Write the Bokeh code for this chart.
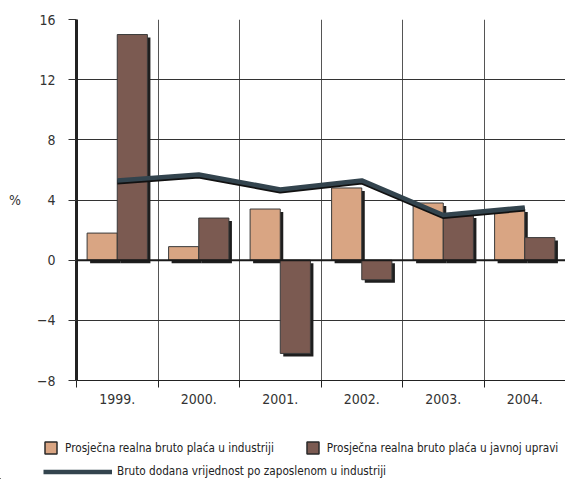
from bokeh.plotting import figure
from bokeh.models import (ColumnDataSource, FixedTicker, Span, Legend, LegendItem,
                          Range1d, CustomJSTickFormatter)
from bokeh.transform import dodge
from bokeh.embed import file_html
from bokeh.resources import INLINE

# ---- data ----
years = ["1999.", "2000.", "2001.", "2002.", "2003.", "2004."]
industry_wage = [1.8, 0.9, 3.4, 4.8, 3.8, 3.4]
public_wage = [15.0, 2.8, -6.2, -1.3, 3.0, 1.5]
value_added = [5.3, 5.7, 4.7, 5.3, 3.0, 3.5]
y_ticks = [-8, -4, 0, 4, 8, 12, 16]
labels = ["Prosječna realna bruto plaća u industriji",
          "Prosječna realna bruto plaća u javnoj upravi",
          "Bruto dodana vrijednost po zaposlenom u industriji"]

FONT = "'Liberation Sans Narrow', 'DejaVu Sans Condensed', 'Noto Sans Condensed', 'Liberation Sans', sans-serif"
TAN = "#d9a583"
BROWN = "#7b5a51"
LINE = "#33444e"
SHADOW = "#1e1e1e"

xc = [i + 0.5 for i in range(len(years))]
src = ColumnDataSource(dict(
    x=xc,
    ind_top=[max(v, 0) for v in industry_wage],
    ind_bot=[min(v, 0) for v in industry_wage],
    pub_top=[max(v, 0) for v in public_wage],
    pub_bot=[min(v, 0) for v in public_wage],
    va=value_added,
))

p = figure(width=565, height=410, output_backend="svg", toolbar_location=None,
           x_range=Range1d(0, len(years)), y_range=Range1d(y_ticks[0], y_ticks[-1]),
           min_border_left=76, min_border_right=0, min_border_top=19, min_border_bottom=30)
p.outline_line_color = None
p.background_fill_color = "white"

# grids
p.xgrid.ticker = FixedTicker(ticks=list(range(1, len(years) + 1)))
p.xgrid.grid_line_color = "#555555"
p.xgrid.grid_line_width = 1
p.ygrid.ticker = FixedTicker(ticks=y_ticks)
p.ygrid.grid_line_color = "#333333"
p.ygrid.grid_line_width = 1

# axes
xa = p.xaxis[0]
xa.ticker = FixedTicker(ticks=xc, minor_ticks=list(range(0, len(years) + 1)))
xa.formatter = CustomJSTickFormatter(args=dict(labels=years),
                                     code="return labels[Math.floor(tick)];")
xa.major_tick_out = 0
xa.major_tick_in = 0
xa.minor_tick_out = 7
xa.minor_tick_in = 0
xa.minor_tick_line_color = "#222222"
xa.axis_line_color = "#222222"
xa.major_label_standoff = 6
xa.major_label_text_font = FONT
xa.major_label_text_font_size = "14px"
xa.major_label_text_color = "#333333"

ya = p.yaxis[0]
ya.ticker = FixedTicker(ticks=y_ticks)
ya.major_label_overrides = {t: ("\u2212" + str(-t) if t < 0 else str(t)) for t in y_ticks}
ya.minor_tick_line_color = None
ya.major_tick_out = 8
ya.major_tick_in = 0
ya.major_tick_line_color = "#333333"
ya.axis_line_width = 3
ya.axis_line_color = "#222222"
ya.major_label_standoff = 13
ya.major_label_text_font = FONT
ya.major_label_text_font_size = "14px"
ya.major_label_text_color = "#333333"
ya.axis_label = "%"
ya.axis_label_orientation = "horizontal"
ya.axis_label_standoff = 13
ya.axis_label_text_font = FONT
ya.axis_label_text_font_size = "14px"
ya.axis_label_text_font_style = "normal"
ya.axis_label_text_color = "#333333"

BW = 0.37
OFF = BW / 2
SX = 0.037   # shadow offset (x)
SY = 0.2     # shadow offset (y)

# shadows
p.vbar(x=dodge("x", -OFF + SX, range=p.x_range), width=BW,
       top=dodge("ind_top", -SY), bottom=dodge("ind_bot", -SY),
       source=src, fill_color=SHADOW, line_color=None)
p.vbar(x=dodge("x", OFF + SX, range=p.x_range), width=BW,
       top=dodge("pub_top", -SY), bottom=dodge("pub_bot", -SY),
       source=src, fill_color=SHADOW, line_color=None)

p.vbar(x=dodge("x", -OFF, range=p.x_range), width=BW, top="ind_top", bottom="ind_bot",
       source=src, fill_color=TAN, line_color="#3a3a3a", line_width=1)
p.vbar(x=dodge("x", OFF, range=p.x_range), width=BW, top="pub_top", bottom="pub_bot",
       source=src, fill_color=BROWN, line_color="#3a3a3a", line_width=1)

p.add_layout(Span(location=0, dimension="width", line_color="#1a1a1a", line_width=2))

p.line(x="x", y=dodge("va", -0.1), source=src, line_color="#111111", line_width=5)
p.line(x="x", y="va", source=src, line_color=LINE, line_width=4.5)

# ---- legend panel (separate root, same data, ranges chosen so marks stay out of view) ----
lg = figure(width=565, height=69, output_backend="svg", toolbar_location=None,
            x_axis_type=None, y_axis_type=None,
            x_range=Range1d(10, 11), y_range=Range1d(20, 21), min_border=0)
lg.outline_line_color = None
lg.grid.visible = False
d_ind = lg.vbar(x="x", top="ind_top", bottom="ind_bot", width=BW, source=src,
                fill_color=TAN, line_color="#2a2a2a", line_width=1.5)
d_pub = lg.vbar(x="x", top="pub_top", bottom="pub_bot", width=BW, source=src,
                fill_color=BROWN, line_color="#2a2a2a", line_width=1.5)
d_line = lg.line(x="x", y="va", source=src, line_color=LINE, line_width=4.5)

common = dict(padding=0, margin=0, border_line_color=None, background_fill_alpha=0,
              label_text_font=FONT, label_text_font_size="11.7px", label_text_color="#222222",
              label_text_baseline="middle")
leg1 = Legend(items=[LegendItem(label=labels[0], renderers=[d_ind]),
                     LegendItem(label=labels[1], renderers=[d_pub])],
              orientation="horizontal", location=(43, 24),
              glyph_width=15, glyph_height=15, label_height=15,
              label_standoff=7, spacing=31, **common)
leg2 = Legend(items=[LegendItem(label=labels[2], renderers=[d_line])],
              location=(43, 1), glyph_width=69, glyph_height=11, label_height=11,
              label_standoff=5, **common)
lg.add_layout(leg1, "center")
lg.add_layout(leg2, "center")

open("out.html", "w").write(file_html([p, lg], INLINE))
